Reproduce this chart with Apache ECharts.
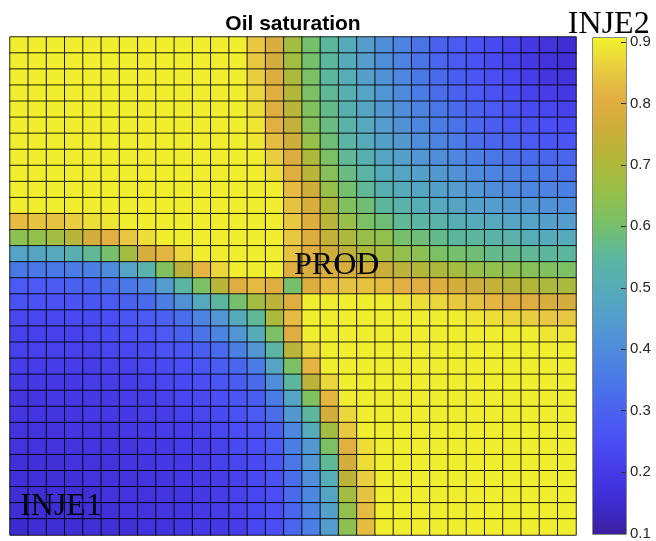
<!DOCTYPE html>
<html>
<head>
<meta charset="utf-8">
<script src="https://cdn.jsdelivr.net/npm/echarts@6/dist/echarts.min.js"></script>
<style>
  html, body { margin: 0; padding: 0; background: #fff; }
  #chart { width: 656px; height: 541px; }
</style>
</head>
<body>
<div id="chart"></div>
<script>
// oil saturation per cell, row 0 = top of the grid, col 0 = left
var oilSat = [
  [0.90,0.90,0.90,0.90,0.90,0.90,0.90,0.90,0.90,0.90,0.90,0.90,0.90,0.85,0.78,0.68,0.60,0.55,0.50,0.45,0.41,0.38,0.34,0.30,0.28,0.26,0.24,0.22,0.20,0.18,0.16],
  [0.90,0.90,0.90,0.90,0.90,0.90,0.90,0.90,0.90,0.90,0.90,0.90,0.90,0.85,0.77,0.68,0.60,0.55,0.50,0.45,0.41,0.38,0.34,0.31,0.28,0.26,0.24,0.22,0.20,0.18,0.17],
  [0.90,0.90,0.90,0.90,0.90,0.90,0.90,0.90,0.90,0.90,0.90,0.90,0.90,0.86,0.79,0.70,0.61,0.55,0.51,0.46,0.42,0.39,0.35,0.32,0.29,0.27,0.25,0.23,0.21,0.19,0.18],
  [0.90,0.90,0.90,0.90,0.90,0.90,0.90,0.90,0.90,0.90,0.90,0.90,0.90,0.87,0.80,0.71,0.61,0.56,0.52,0.47,0.43,0.40,0.36,0.33,0.30,0.28,0.26,0.24,0.22,0.21,0.20],
  [0.90,0.90,0.90,0.90,0.90,0.90,0.90,0.90,0.90,0.90,0.90,0.90,0.90,0.88,0.80,0.72,0.62,0.57,0.52,0.48,0.44,0.41,0.38,0.35,0.32,0.30,0.28,0.26,0.24,0.23,0.22],
  [0.90,0.90,0.90,0.90,0.90,0.90,0.90,0.90,0.90,0.90,0.90,0.90,0.90,0.89,0.81,0.74,0.63,0.58,0.53,0.49,0.45,0.42,0.39,0.36,0.34,0.31,0.29,0.27,0.26,0.25,0.24],
  [0.90,0.90,0.90,0.90,0.90,0.90,0.90,0.90,0.90,0.90,0.90,0.90,0.90,0.89,0.83,0.76,0.66,0.59,0.54,0.50,0.46,0.44,0.41,0.38,0.36,0.33,0.31,0.30,0.28,0.27,0.27],
  [0.90,0.90,0.90,0.90,0.90,0.90,0.90,0.90,0.90,0.90,0.90,0.90,0.90,0.90,0.86,0.79,0.70,0.61,0.56,0.52,0.48,0.46,0.43,0.41,0.39,0.37,0.35,0.33,0.32,0.31,0.31],
  [0.90,0.90,0.90,0.90,0.90,0.90,0.90,0.90,0.90,0.90,0.90,0.90,0.90,0.90,0.88,0.80,0.72,0.63,0.58,0.54,0.50,0.48,0.46,0.44,0.42,0.40,0.38,0.37,0.36,0.35,0.34],
  [0.90,0.90,0.90,0.90,0.90,0.90,0.90,0.90,0.90,0.90,0.90,0.90,0.90,0.90,0.90,0.83,0.76,0.66,0.60,0.56,0.52,0.50,0.48,0.46,0.45,0.43,0.41,0.40,0.39,0.38,0.37],
  [0.90,0.90,0.90,0.90,0.90,0.90,0.90,0.90,0.90,0.90,0.90,0.90,0.90,0.90,0.90,0.84,0.78,0.70,0.62,0.59,0.55,0.53,0.51,0.49,0.48,0.46,0.45,0.44,0.43,0.42,0.41],
  [0.83,0.84,0.84,0.86,0.88,0.89,0.90,0.90,0.90,0.90,0.90,0.90,0.90,0.90,0.90,0.85,0.79,0.72,0.66,0.61,0.59,0.56,0.54,0.53,0.51,0.50,0.49,0.48,0.47,0.46,0.45],
  [0.64,0.65,0.68,0.72,0.77,0.81,0.85,0.88,0.90,0.90,0.90,0.90,0.90,0.90,0.90,0.85,0.79,0.74,0.70,0.66,0.65,0.60,0.59,0.57,0.55,0.55,0.53,0.53,0.51,0.50,0.50],
  [0.47,0.48,0.49,0.52,0.56,0.60,0.68,0.78,0.82,0.87,0.90,0.90,0.90,0.90,0.90,0.84,0.80,0.76,0.73,0.70,0.68,0.65,0.64,0.61,0.60,0.59,0.57,0.57,0.56,0.55,0.55],
  [0.35,0.35,0.35,0.36,0.37,0.40,0.47,0.53,0.62,0.73,0.82,0.87,0.90,0.90,0.90,0.80,0.78,0.78,0.77,0.77,0.75,0.73,0.71,0.70,0.68,0.66,0.65,0.64,0.63,0.62,0.61],
  [0.28,0.28,0.28,0.30,0.30,0.33,0.35,0.38,0.45,0.54,0.61,0.72,0.80,0.83,0.80,0.60,0.79,0.83,0.84,0.84,0.83,0.81,0.80,0.79,0.77,0.76,0.74,0.72,0.71,0.70,0.69],
  [0.26,0.26,0.26,0.26,0.27,0.28,0.30,0.32,0.37,0.42,0.49,0.55,0.60,0.68,0.73,0.80,0.90,0.90,0.90,0.90,0.90,0.89,0.88,0.87,0.85,0.84,0.82,0.80,0.80,0.78,0.77],
  [0.23,0.23,0.23,0.24,0.24,0.25,0.27,0.28,0.30,0.33,0.38,0.43,0.50,0.56,0.70,0.83,0.90,0.90,0.90,0.90,0.90,0.90,0.90,0.90,0.90,0.89,0.88,0.87,0.86,0.85,0.85],
  [0.22,0.22,0.22,0.22,0.23,0.24,0.25,0.26,0.28,0.30,0.34,0.38,0.43,0.50,0.61,0.80,0.90,0.90,0.90,0.90,0.90,0.90,0.90,0.90,0.90,0.90,0.90,0.90,0.90,0.89,0.89],
  [0.22,0.22,0.22,0.22,0.22,0.23,0.23,0.24,0.26,0.27,0.29,0.32,0.37,0.43,0.54,0.72,0.87,0.90,0.90,0.90,0.90,0.90,0.90,0.90,0.90,0.90,0.90,0.90,0.90,0.90,0.90],
  [0.21,0.21,0.21,0.21,0.21,0.22,0.22,0.23,0.24,0.25,0.27,0.29,0.31,0.36,0.48,0.61,0.82,0.90,0.90,0.90,0.90,0.90,0.90,0.90,0.90,0.90,0.90,0.90,0.90,0.90,0.90],
  [0.20,0.20,0.20,0.20,0.21,0.21,0.21,0.22,0.23,0.24,0.25,0.27,0.29,0.32,0.41,0.55,0.73,0.87,0.90,0.90,0.90,0.90,0.90,0.90,0.90,0.90,0.90,0.90,0.90,0.90,0.90],
  [0.19,0.19,0.20,0.20,0.20,0.20,0.21,0.21,0.22,0.23,0.24,0.25,0.27,0.29,0.36,0.48,0.62,0.82,0.90,0.90,0.90,0.90,0.90,0.90,0.90,0.90,0.90,0.90,0.90,0.90,0.90],
  [0.19,0.19,0.19,0.19,0.20,0.20,0.20,0.21,0.21,0.22,0.23,0.24,0.26,0.28,0.33,0.44,0.55,0.77,0.87,0.90,0.90,0.90,0.90,0.90,0.90,0.90,0.90,0.90,0.90,0.90,0.90],
  [0.18,0.18,0.18,0.19,0.19,0.19,0.20,0.20,0.21,0.21,0.22,0.23,0.25,0.26,0.29,0.39,0.50,0.68,0.85,0.90,0.90,0.90,0.90,0.90,0.90,0.90,0.90,0.90,0.90,0.90,0.90],
  [0.18,0.18,0.18,0.18,0.19,0.19,0.19,0.20,0.20,0.21,0.21,0.22,0.24,0.25,0.28,0.37,0.44,0.61,0.81,0.88,0.90,0.90,0.90,0.90,0.90,0.90,0.90,0.90,0.90,0.90,0.90],
  [0.17,0.17,0.17,0.18,0.18,0.18,0.19,0.19,0.20,0.20,0.21,0.22,0.23,0.24,0.27,0.35,0.43,0.56,0.77,0.88,0.90,0.90,0.90,0.90,0.90,0.90,0.90,0.90,0.90,0.90,0.90],
  [0.17,0.17,0.17,0.17,0.18,0.18,0.18,0.19,0.19,0.20,0.20,0.21,0.22,0.24,0.26,0.33,0.41,0.51,0.73,0.86,0.90,0.90,0.90,0.90,0.90,0.90,0.90,0.90,0.90,0.90,0.90],
  [0.16,0.16,0.17,0.17,0.17,0.18,0.18,0.18,0.19,0.19,0.20,0.21,0.22,0.23,0.25,0.32,0.39,0.48,0.68,0.84,0.90,0.90,0.90,0.90,0.90,0.90,0.90,0.90,0.90,0.90,0.90],
  [0.16,0.16,0.16,0.17,0.17,0.17,0.18,0.18,0.19,0.19,0.20,0.21,0.22,0.23,0.25,0.31,0.38,0.46,0.65,0.83,0.90,0.90,0.90,0.90,0.90,0.90,0.90,0.90,0.90,0.90,0.90],
  [0.15,0.16,0.16,0.16,0.17,0.17,0.17,0.18,0.18,0.19,0.20,0.20,0.21,0.23,0.25,0.31,0.37,0.45,0.64,0.83,0.90,0.90,0.90,0.90,0.90,0.90,0.90,0.90,0.90,0.90,0.90]
];

var wellNames = ['INJE1', 'PROD', 'INJE2'];
var wellCols = [0, 15, 30];
var wellRows = [30, 15, 0];

var cbTicks = [0.1, 0.2, 0.3, 0.4, 0.5, 0.6, 0.7, 0.8, 0.9];
// colours picked off the colour bar, 0.1 -> 0.9 in steps of 0.05
var cbColors = ['#3a1f9c', '#3e2bd0', '#4539e6', '#4a4ff4', '#4a62f0', '#4a78e6', '#4f8cdc', '#549ecc',
  '#56acb8', '#5db79c', '#78c068', '#96c04a', '#b0b83a', '#cdae3a', '#e2ae42', '#e8cd40', '#f3f32c'];

var nCols = oilSat[0].length;
var nRows = oilSat.length;
var colCats = [], rowCats = [];
for (var i = 0; i < nCols; i++) colCats.push(i);
for (var j = 0; j < nRows; j++) rowCats.push(j);

var cells = [];
for (var r = 0; r < nRows; r++) {
  for (var c = 0; c < nCols; c++) {
    cells.push([c, r, oilSat[r][c]]);
  }
}

var myChart = echarts.init(document.getElementById('chart'), null, { renderer: 'canvas' });

var option = {
  animation: false,
  grid: [
    { left: 10, top: 37, width: 566, height: 498 },
    { left: 592, top: 42, width: 34, height: 493 }
  ],
  xAxis: [
    { type: 'category', data: colCats, gridIndex: 0, show: false },
    { type: 'value', gridIndex: 1, show: false, min: 0, max: 1 }
  ],
  yAxis: [
    { type: 'category', data: rowCats, gridIndex: 0, inverse: true, show: false },
    {
      type: 'value', gridIndex: 1, position: 'right', z: 10,
      min: cbTicks[0], max: cbTicks[cbTicks.length - 1], interval: 0.1,
      axisLine: { show: false, onZero: false },
      axisTick: { show: true, inside: true, length: 5, lineStyle: { color: '#333' } },
      splitLine: { show: false },
      axisLabel: {
        margin: 4, color: '#262626', fontSize: 15, fontFamily: 'Liberation Sans, Arial, sans-serif',
        formatter: function (v) { return v.toFixed(1); }
      }
    }
  ],
  visualMap: {
    type: 'continuous',
    seriesIndex: 0,
    min: 0.1,
    max: 0.908,
    left: 592,
    top: 37,
    itemWidth: 34,
    itemHeight: 498,
    padding: 0,
    calculable: false,
    inRange: { color: cbColors }
  },
  series: [{
    type: 'heatmap',
    xAxisIndex: 0,
    yAxisIndex: 0,
    data: cells,
    itemStyle: { borderColor: 'rgba(0,0,0,0.85)', borderWidth: 1 },
    emphasis: { disabled: true }
  }],
  graphic: [{
    type: 'text',
    x: 293, y: 24,
    style: {
      text: 'Oil saturation', fill: '#000', align: 'center', verticalAlign: 'middle',
      font: 'bold 21px "Liberation Sans", Arial, sans-serif'
    }
  }, {
    // thin frame round the colour bar
    type: 'rect',
    z: 20,
    shape: { x: 592.5, y: 37.5, width: 34, height: 497 },
    style: { fill: null, stroke: '#8a8a8a', lineWidth: 1 }
  }]
};

myChart.setOption(option);

// well labels, anchored at the well cells
var labels = [];
for (var k = 0; k < wellNames.length; k++) {
  var p = myChart.convertToPixel({ seriesIndex: 0 }, [wellCols[k], wellRows[k]]);
  var cellH = 498 / nRows;
  labels.push({
    type: 'text',
    x: p[0] + 1,
    y: p[1] - cellH / 2 - 12.8,
    z: 100,
    style: {
      text: wellNames[k], fill: '#000', align: 'left', verticalAlign: 'middle',
      font: '32px "Liberation Serif", "Times New Roman", serif'
    }
  });
}
myChart.setOption({ graphic: option.graphic.concat(labels) });

window.addEventListener('resize', myChart.resize);
</script>
</body>
</html>
